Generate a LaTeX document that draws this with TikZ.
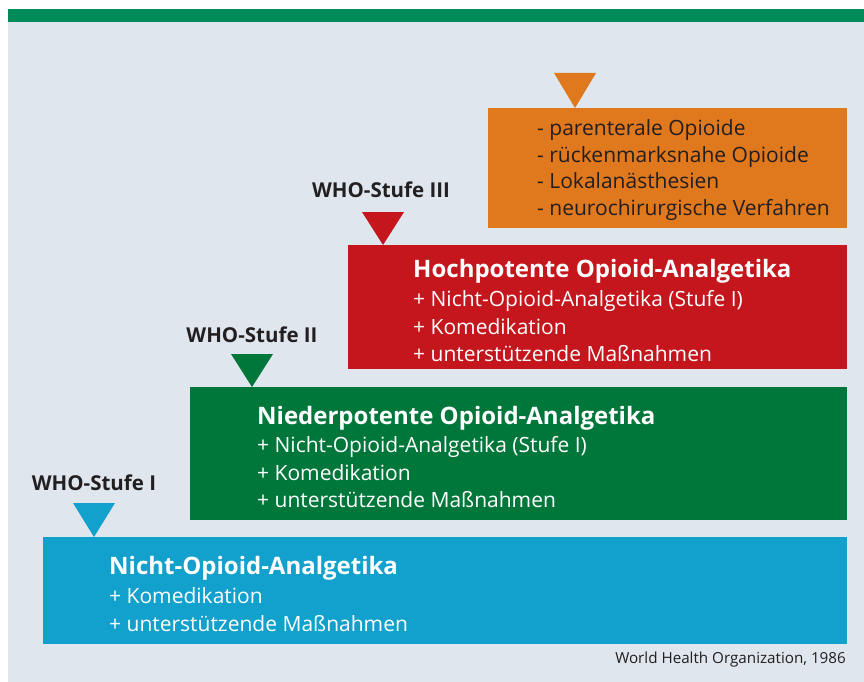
\documentclass[tikz,border=0pt]{standalone}
\usepackage{fontspec}
\setmainfont{Open Sans}
\usepackage{xcolor}
\usetikzlibrary{positioning}
\definecolor{BarGreen}{RGB}{0,140,90}
\definecolor{PanelGray}{RGB}{223,230,237}
\definecolor{StepOrange}{RGB}{224,120,30}
\definecolor{StepRed}{RGB}{196,22,28}
\definecolor{StepGreen}{RGB}{0,119,58}
\definecolor{StepBlue}{RGB}{17,161,204}
\definecolor{InkDark}{RGB}{35,31,32}

\begin{document}
\begin{tikzpicture}[x=1pt, y=-1pt,
	stepbox/.style={anchor=north west, inner sep=0pt, outer sep=0pt},
	steptext/.style={anchor=west, inner sep=0pt, align=left, text=white, font=\fontsize{21}{27.5}\selectfont},
	steplabel/.style={inner sep=0pt, text=InkDark, font=\fontsize{20.5}{20.5}\selectfont\bfseries}]
	\useasboundingbox (0,0) rectangle (864,682);
	
	% Hintergrund und Balken oben
	\fill[PanelGray] (8,22) rectangle (864,682);
	\fill[BarGreen] (8,9) rectangle (864,22);
	
	% Stufe IV (ohne Beschriftung)
	\node (orange) [stepbox, fill=StepOrange, minimum width=359pt, minimum height=120pt] at (488,108) {};
	\fill[StepOrange] (554,73) -- (596,73) -- (575,108) -- cycle;
	\node (orangetext) [steptext, text=InkDark, right=49pt of orange.west, yshift=-2pt, font=\fontsize{21}{26.5}\selectfont]
		{- parenterale Opioide\\- rückenmarksnahe Opioide\\- Lokalanästhesien\\- neurochirurgische Verfahren};
	
	% WHO-Stufe III
	\node (red) [stepbox, fill=StepRed, minimum width=499pt, minimum height=124pt] at (348,245) {};
	\fill[StepRed] (362,212) -- (404,212) -- (383,245) -- cycle;
	\node (labelIII) [steplabel] at (381,190) {WHO-Stufe III};
	\node (redtext) [steptext, right=65pt of red.west, yshift=-3.5pt]
		{{\fontsize{24}{27.5}\selectfont\bfseries Hochpotente Opioid-Analgetika}\\[2pt]+ Nicht-Opioid-Analgetika (Stufe I)\\+ Komedikation\\+ unterstützende Maßnahmen};
	
	% WHO-Stufe II
	\node (green) [stepbox, fill=StepGreen, minimum width=657pt, minimum height=133pt] at (190,387) {};
	\fill[StepGreen] (231,354) -- (273,354) -- (252,387) -- cycle;
	\node (labelII) [steplabel] at (252,335) {WHO-Stufe II};
	\node (greentext) [steptext, right=67pt of green.west, yshift=-3.5pt]
		{{\fontsize{24}{27.5}\selectfont\bfseries Niederpotente Opioid-Analgetika}\\[1pt]+ Nicht-Opioid-Analgetika (Stufe I)\\+ Komedikation\\+ unterstützende Maßnahmen};
	
	% WHO-Stufe I
	\node (blue) [stepbox, fill=StepBlue, minimum width=804pt, minimum height=107pt] at (43,537) {};
	\fill[StepBlue] (73,503) -- (115,503) -- (94,537) -- cycle;
	\node (labelI) [steplabel] at (94,483) {WHO-Stufe I};
	\node (bluetext) [steptext, right=66pt of blue.west, yshift=-3pt]
		{{\fontsize{24}{27.5}\selectfont\bfseries Nicht-Opioid-Analgetika}\\[2pt]+ Komedikation\\+ unterstützende Maßnahmen};
	
	\node (source) [anchor=base east, inner sep=0pt, text=InkDark, font=\fontsize{15.2}{15}\selectfont] at (846,663) {World Health Organization, 1986};
\end{tikzpicture}
\end{document}
